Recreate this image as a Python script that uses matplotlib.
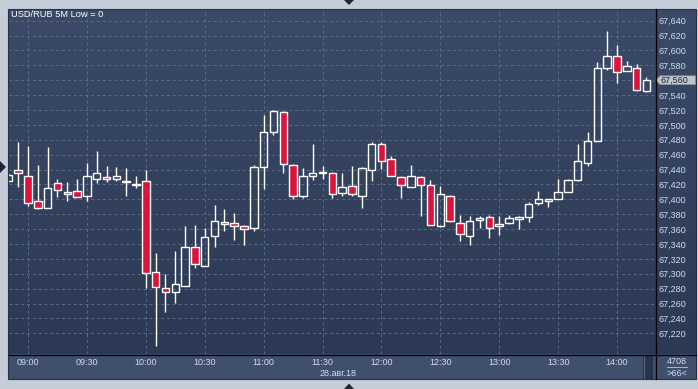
import numpy as np
import matplotlib
matplotlib.use("Agg")
import matplotlib.pyplot as plt
from matplotlib.colors import LinearSegmentedColormap
from matplotlib.patches import Polygon, Rectangle

# ---------------- data ----------------
title = "USD/RUB 5M Low = 0"
date_label = "28.авг.18"
volume_label = "4708"
opens = [67425, 67439, 67432, 67398, 67388, 67422, 67410, 67411, 67404, 67427,
         67430, 67427, 67423, 67419, 67424, 67303, 67281, 67276, 67284, 67336,
         67310, 67351, 67370, 67368, 67364, 67361, 67444, 67490, 67517, 67446,
         67404, 67432, 67435, 67435, 67408, 67418, 67404, 67440, 67475, 67454,
         67430, 67417, 67430, 67419, 67364, 67404, 67368, 67351, 67372, 67376,
         67364, 67368, 67374, 67376, 67395, 67398, 67401, 67410, 67426, 67449,
         67479, 67576, 67592, 67572, 67577, 67545]
highs = [67435, 67477, 67472, 67446, 67470, 67427, 67423, 67427, 67449, 67465,
         67445, 67443, 67442, 67431, 67439, 67328, 67300, 67331, 67364, 67366,
         67362, 67392, 67387, 67382, 67366, 67446, 67513, 67520, 67518, 67447,
         67442, 67474, 67445, 67437, 67435, 67445, 67444, 67477, 67477, 67458,
         67431, 67446, 67432, 67426, 67418, 67406, 67379, 67377, 67378, 67379,
         67377, 67379, 67378, 67396, 67411, 67401, 67427, 67427, 67474, 67491,
         67584, 67626, 67607, 67586, 67582, 67565]
lows = [67423, 67416, 67391, 67387, 67388, 67403, 67398, 67403, 67398, 67422,
        67423, 67425, 67405, 67415, 67281, 67203, 67249, 67261, 67284, 67308,
        67310, 67336, 67358, 67346, 67339, 67358, 67414, 67486, 67435, 67401,
        67402, 67426, 67427, 67402, 67404, 67405, 67389, 67424, 67441, 67431,
        67402, 67416, 67377, 67365, 67363, 67369, 67344, 67338, 67362, 67348,
        67352, 67367, 67360, 67369, 67393, 67390, 67401, 67410, 67425, 67445,
        67478, 67574, 67556, 67572, 67545, 67544]
closes = [67433, 67435, 67395, 67389, 67415, 67412, 67407, 67403, 67432, 67436,
          67427, 67432, 67425, 67421, 67301, 67282, 67275, 67286, 67336, 67313,
          67350, 67371, 67367, 67364, 67360, 67443, 67490, 67518, 67447, 67405,
          67431, 67435, 67437, 67407, 67416, 67407, 67442, 67474, 67451, 67431,
          67419, 67431, 67419, 67365, 67407, 67371, 67353, 67371, 67375, 67361,
          67367, 67375, 67376, 67394, 67400, 67400, 67410, 67426, 67451, 67478,
          67576, 67592, 67571, 67579, 67547, 67560]
time_ticks = [2, 8, 14, 20, 26, 32, 38, 44, 50, 56, 62]
time_labels = ["09:00", "09:30", "10:00", "10:30", "11:00", "11:30",
               "12:00", "12:30", "13:00", "13:30", "14:00"]
price_ticks = list(range(67220, 67641, 20))

# ---------------- style ----------------
W, H = 698, 389
FONT = "Liberation Sans"
FS = 6.5
TXT = "#cfdcf2"
RED = "#dc143c"
FIG_BG = "#c5cdd8"
TOP_C, BOT_C = "#3b4a67", "#2b3954"
PANEL_C = "#3f4f6c"

plt.rcParams["font.family"] = [FONT, "DejaVu Sans"]

def rect(x0, y0, x1, y1):
    return [x0 / W, 1 - y1 / H, (x1 - x0) / W, (y1 - y0) / H]

def grad(axh, top, bottom):
    cmap = LinearSegmentedColormap.from_list("g", [top, bottom])
    axh.imshow(np.linspace(0, 1, 256).reshape(-1, 1), cmap=cmap, aspect="auto",
               extent=[0, 1, 0, 1], transform=axh.transAxes, zorder=0)

fig = plt.figure(figsize=(W / 100, H / 100), dpi=100, facecolor=FIG_BG)

# x/y limits (index units / price)
xlim = (0.065, 65.87)
ylim = (67192.2, 67655.7)

# background of plot
bg = fig.add_axes(rect(9, 9, 655, 354))
grad(bg, TOP_C, BOT_C)
bg.set_xlim(0, 1); bg.set_ylim(0, 1)
bg.axis("off")

# right panel
axr = fig.add_axes(rect(655, 9, 696, 354))
grad(axr, TOP_C, BOT_C)
axr.set_xlim(0, 41)
axr.set_ylim(*ylim)
axr.axis("off")

# bottom panel
axb = fig.add_axes(rect(9, 354, 655, 379))
axb.set_facecolor(PANEL_C)
axb.set_xlim(0, 646); axb.set_ylim(25, 0)
axb.set_xticks([]); axb.set_yticks([])
for s in axb.spines.values():
    s.set_visible(False)
axb.add_patch(Rectangle((634, 2), 10, 23, facecolor="#27334b", edgecolor="none"))
axb.plot([634.5, 634.5], [2, 25], color="#55657f", lw=0.8)
axb.text(329, 19.3, date_label, ha="center", va="center", color=TXT,
         fontsize=FS, fontfamily=FONT)

# corner panel
axc = fig.add_axes(rect(655, 354, 696, 379))
axc.set_facecolor(PANEL_C)
axc.set_xlim(0, 41); axc.set_ylim(25, 0)
axc.set_xticks([]); axc.set_yticks([])
for s in axc.spines.values():
    s.set_visible(False)
axc.text(21.7, 7.4, volume_label, ha="center", va="center", color=TXT,
         fontsize=FS, fontfamily=FONT)
axc.plot([11.5, 32], [12.7, 12.7], color="#aab6c8", lw=0.7)
axc.text(21.7, 19.6, f">{len(closes)}<", ha="center", va="center", color=TXT,
         fontsize=FS, fontfamily=FONT)

# main axes
ax = fig.add_axes(rect(9, 9, 655, 354))
ax.set_facecolor("none")
ax.set_xlim(*xlim)
ax.set_ylim(*ylim)
for s in ax.spines.values():
    s.set_visible(False)

ax.set_xticks(time_ticks)
ax.set_xticklabels(time_labels)
ax.yaxis.tick_right()
ax.set_yticks(price_ticks)
last = closes[-1]
ax.set_yticklabels(["" if p == last else f"{p:,}" for p in price_ticks])
ax.tick_params(axis="x", length=0, pad=3.2, labelcolor=TXT, labelsize=FS)
ax.tick_params(axis="y", length=0, pad=2.4, labelcolor=TXT, labelsize=FS)
ax.grid(True, color="#5a6a89", lw=0.7, ls=(0, (3, 3)))
ax.set_axisbelow(True)

x = np.arange(len(closes))
o = np.array(opens); h = np.array(highs); l = np.array(lows); c = np.array(closes)
top = np.maximum(o, c); bot = np.minimum(o, c)
up = c >= o
ax.vlines(x, top, h, color="white", lw=1.0, zorder=3)
ax.vlines(x, l, bot, color="white", lw=1.0, zorder=3)
heights = np.maximum(top - bot, 0.8)
ax.bar(x[up], heights[up], bottom=bot[up], width=0.76, facecolor="none",
       edgecolor="white", linewidth=1.0, zorder=4)
ax.bar(x[~up], heights[~up], bottom=bot[~up], width=0.76, facecolor=RED,
       edgecolor="white", linewidth=1.0, zorder=4)

ax.text(2.0 / 646, 1 - 5.2 / 345, title, transform=ax.transAxes, ha="left",
        va="center", color="white", fontsize=FS + 0.2, fontfamily=FONT)

# last price marker
hh = 4.4 * (ylim[1] - ylim[0]) / 345
axr.add_patch(Polygon([(1.2, last), (5.0, last + hh), (40.5, last + hh),
                       (40.5, last - hh), (5.0, last - hh)], closed=True,
                      facecolor="#c0c5cd", edgecolor="#8a93a0", lw=0.5, zorder=3))
axr.text(5.6, last, f"{last:,}", ha="left", va="center", color="#1e2430",
         fontsize=FS, fontfamily=FONT, zorder=4)

# separator lines
fig.add_artist(plt.Line2D([655.5 / W, 655.5 / W], [1 - 379 / H, 1 - 9 / H],
                          color="black", lw=0.9))
fig.add_artist(plt.Line2D([9 / W, 696 / W], [1 - 354.5 / H, 1 - 354.5 / H],
                          color="black", lw=0.9))
fig.add_artist(Rectangle((8 / W, 1 - 379 / H), 688 / W, 370 / H, fill=False,
                         edgecolor="#2a3141", lw=0.8, transform=fig.transFigure))

# navigation triangles
def tri(pts):
    fig.add_artist(Polygon([(px / W, 1 - py / H) for px, py in pts], closed=True,
                           facecolor="#1f2631", edgecolor="none",
                           transform=fig.transFigure))
tri([(344, 0), (354, 0), (349, 5)])
tri([(344, 389), (354, 389), (349, 383.5)])
tri([(0, 161), (0, 173), (6, 167)])

fig.savefig("out.png", dpi=100, facecolor=FIG_BG)
